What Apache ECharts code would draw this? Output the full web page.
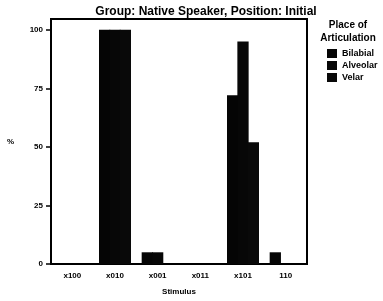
<!DOCTYPE html>
<html><head><meta charset="utf-8">
<script src="https://cdn.jsdelivr.net/npm/echarts@6/dist/echarts.min.js"></script>
<style>html,body{margin:0;padding:0;background:#fff}#c{width:383px;height:301px}</style>
</head><body><div id="c"></div>
<script>
const categories = ['x100', 'x010', 'x001', 'x011', 'x101', '110'];
const bilabial = [0, 100, 5, 0, 72, 5];
const alveolar = [0, 100, 5, 0, 95, 0];
const velar = [0, 100, 0, 0, 52, 0];
const seriesNames = ['Bilabial', 'Alveolar', 'Velar'];
const yTicks = [0, 25, 50, 75, 100];

const font = 'Liberation Sans, Arial, sans-serif';
const chart = echarts.init(document.getElementById('c'), null, {renderer: 'canvas'});
const colors = ['#050505', '#070707', '#090909'];
chart.setOption({
  animation: false,
  color: colors,
  title: [{
    text: 'Group: Native Speaker, Position: Initial',
    left: 201, top: 1, textAlign: 'center',
    textStyle: {fontSize: 12, fontWeight: 'bold', fontFamily: font, color: '#000'}
  }, {
    text: 'Place of\nArticulation',
    left: 343, top: 14, textAlign: 'center',
    textStyle: {fontSize: 10, fontWeight: 'bold', fontFamily: font, color: '#000', lineHeight: 13}
  }],
  legend: {
    orient: 'vertical', left: 322, top: 44,
    itemWidth: 10, itemHeight: 9, itemGap: 3,
    icon: 'rect',
    data: seriesNames,
    textStyle: {fontSize: 9, fontWeight: 'bold', fontFamily: font, color: '#000'}
  },
  grid: {left: 51, right: 76, top: 19, bottom: 34, show: true, borderColor: '#000', borderWidth: 2},
  xAxis: {
    type: 'category', data: categories,
    name: 'Stimulus', nameLocation: 'middle', nameGap: 24,
    nameTextStyle: {fontSize: 8, fontWeight: 'bold', fontFamily: font, color: '#000'},
    axisLine: {lineStyle: {color: '#000', width: 2}},
    axisTick: {alignWithLabel: true, length: 5, lineStyle: {color: '#000', width: 1.5}},
    axisLabel: {fontSize: 8, fontWeight: 'bold', fontFamily: font, color: '#000', margin: 8}
  },
  yAxis: {
    type: 'value', min: 0, max: 104.6,
    name: '%', nameLocation: 'middle', nameGap: 37, nameRotate: 0,
    nameTextStyle: {fontSize: 8, fontWeight: 'bold', fontFamily: font, color: '#000'},
    axisLine: {show: true, lineStyle: {color: '#000', width: 2}},
    axisTick: {show: true, length: 5, customValues: yTicks, lineStyle: {color: '#000', width: 1.5}},
    axisLabel: {customValues: yTicks, fontSize: 8, fontWeight: 'bold', fontFamily: font, color: '#000', margin: 8},
    splitLine: {show: false}
  },
  series: [
    {name: seriesNames[0], type: 'bar', data: bilabial, barGap: '-8%', barCategoryGap: '25%'},
    {name: seriesNames[1], type: 'bar', data: alveolar, barGap: '-8%', barCategoryGap: '25%'},
    {name: seriesNames[2], type: 'bar', data: velar, barGap: '-8%', barCategoryGap: '25%',
     itemStyle: {decal: {symbol: 'rect', symbolSize: 0.2, color: 'rgba(255,255,255,0.3)', dashArrayX: [1, 0], dashArrayY: [1, 11], rotation: 0}}}
  ]
});
</script></body></html>
